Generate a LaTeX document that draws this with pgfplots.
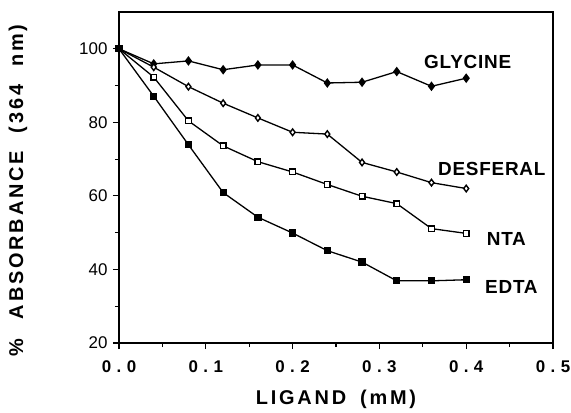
\documentclass[border=0pt]{standalone}
\usepackage{pgfplots}
\pgfplotsset{compat=1.18}
\usepackage{fontspec}
\setmainfont{Liberation Sans}
\newfontfamily\tickfont[LetterSpace=32]{Liberation Sans}
\newfontfamily\labfont[LetterSpace=14]{Liberation Sans}
\newfontfamily\serfont[LetterSpace=4]{Liberation Sans}
\usetikzlibrary{calc}
\begin{document}
\begin{tikzpicture}
\begin{axis}[name=ax, scale only axis, width=434bp, height=331bp,
  xmin=0, xmax=0.5, ymin=20, ymax=110,
  xtick={0,0.1,0.2,0.3,0.4,0.5},
  xticklabels={0.0,0.1,0.2,0.3,0.4,0.5},
  ytick={20,40,60,80,100},
  minor x tick num=1, minor y tick num=1,
  tick align=outside, xtick pos=bottom, ytick pos=left,
  major tick length=6bp, minor tick length=4bp,
  tick style={black, line width=1.1bp},
  axis line style={line width=1.7bp},
  xticklabel style={font=\tickfont\bfseries\fontsize{17}{20}\selectfont, yshift=-8bp},
  yticklabel style={font=\fontsize{17}{20}\selectfont, xshift=-2bp},
  /pgf/number format/assume math mode=true,
  xlabel={LIGAND\hspace{14bp}(mM)},
  ylabel={\%\hspace{20bp}ABSORBANCE\hspace{18bp}(364\hspace{18bp}nm)},
  xlabel style={font=\labfont\bfseries\fontsize{20}{22}\selectfont, at={(axis description cs:0.5,0)}, anchor=center, yshift=-56bp},
  ylabel style={font=\labfont\bfseries\fontsize{20}{22}\selectfont, at={(axis description cs:-0.233,0.46)}, anchor=center},
  clip=false,
  every axis plot/.append style={black, line width=1.3bp},
]
% GLYCINE
\addplot[mark=diamond*, mark size=3.8bp, mark options={fill=black}] coordinates {
 (0,100) (0.04,95.9) (0.08,96.7) (0.12,94.3) (0.16,95.6) (0.2,95.6) (0.24,90.7) (0.28,90.9) (0.32,93.8) (0.36,89.8) (0.4,92.0)};
% DESFERAL
\addplot[mark=diamond*, mark size=3.3bp, mark options={fill=white, line width=1.4bp}] coordinates {
 (0,100) (0.04,95.0) (0.08,89.7) (0.12,85.2) (0.16,81.2) (0.2,77.3) (0.24,76.8) (0.28,69.1) (0.32,66.5) (0.36,63.6) (0.4,62.0)};
% NTA
\addplot[mark=square*, mark size=2.8bp, mark options={fill=white, line width=1.4bp}] coordinates {
 (0,100) (0.04,92.3) (0.08,80.4) (0.12,73.6) (0.16,69.3) (0.2,66.5) (0.24,63.1) (0.28,59.9) (0.32,57.9) (0.36,51.1) (0.4,49.8)};
% EDTA
\addplot[mark=square*, mark size=3bp, mark options={fill=black}] coordinates {
 (0,100) (0.04,87.1) (0.08,73.9) (0.12,60.9) (0.16,54.2) (0.2,49.9) (0.24,45.1) (0.28,42.0) (0.32,36.9) (0.36,36.9) (0.4,37.2)};
\node[anchor=west, font=\serfont\bfseries\fontsize{19}{20}\selectfont, inner sep=0pt] at (axis cs:0.3514,96.4) {GLYCINE};
\node[anchor=west, font=\serfont\bfseries\fontsize{19}{20}\selectfont, inner sep=0pt] at (axis cs:0.3675,67.2) {DESFERAL};
\node[anchor=west, font=\serfont\bfseries\fontsize{19}{20}\selectfont, inner sep=0pt] at (axis cs:0.4236,48.3) {NTA};
\node[anchor=west, font=\serfont\bfseries\fontsize{19}{20}\selectfont, inner sep=0pt] at (axis cs:0.4217,35.2) {EDTA};
\end{axis}
\pgfresetboundingbox
\path ($(ax.south west)+(-119bp,-70bp)$) rectangle ($(ax.north east)+(18bp,12bp)$);
\end{tikzpicture}
\end{document}
